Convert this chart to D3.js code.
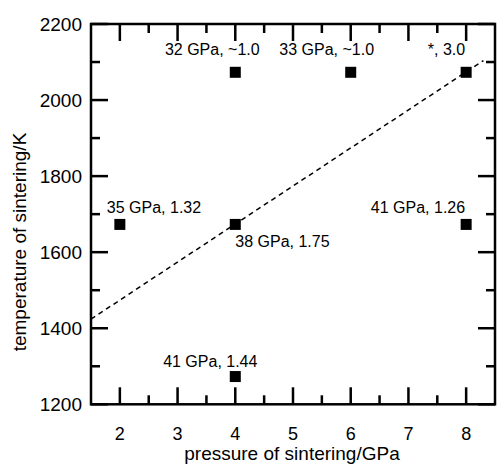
<!DOCTYPE html>
<html>
<head>
<meta charset="utf-8">
<script src="https://cdn.jsdelivr.net/npm/d3@7"></script>
<style>
  html, body { margin: 0; padding: 0; background: #fff; }
  svg { display: block; }
</style>
</head>
<body>
<svg id="chart" width="499" height="469"></svg>
<script>
// ---- data ----
const pressure    = [2, 4, 4, 4, 6, 8, 8];
const temperature = [1673, 2073, 1673, 1273, 2073, 2073, 1673];
const pointLabels = ["35 GPa, 1.32", "32 GPa, ~1.0", "38 GPa, 1.75", "41 GPa, 1.44",
                     "33 GPa, ~1.0", "*, 3.0", "41 GPa, 1.26"];
const fitPressure    = [1.5, 8.3];
const fitTemperature = [1424, 2104];
const xTicks      = [2, 3, 4, 5, 6, 7, 8];
const xMinorTicks = [2.5, 3.5, 4.5, 5.5, 6.5, 7.5];
const yTicks      = [1200, 1400, 1600, 1800, 2000, 2200];
const yMinorTicks = [1300, 1500, 1700, 1900, 2100];
const xTitle = "pressure of sintering/GPa";
const yTitle = "temperature of sintering/K";

// ---- layout / style ----
const FONT = "Liberation Sans, Arial, Helvetica, sans-serif";
const L = 91, R = 495, T = 24, B = 404.3;
const MAJOR = 17, MINOR = 9, SW = 2.5;
const labelStyle = [
  {anchor: "start",  dx: -13, dy: -11},
  {anchor: "middle", dx: -23, dy: -17},
  {anchor: "start",  dx: 0,   dy: 23},
  {anchor: "middle", dx: -25, dy: -10},
  {anchor: "middle", dx: -24, dy: -17},
  {anchor: "end",    dx: -1,  dy: -17},
  {anchor: "end",    dx: -1,  dy: -11}
];

const svg = d3.select("#chart");
const x = d3.scaleLinear().domain([1.5, 8.5]).range([L, R]);
const y = d3.scaleLinear().domain([1200, 2200]).range([B, T]);

// frame + inward ticks as filled rectangles
const axisG = svg.append("g").attr("fill", "#000");
const xTickData = xTicks.map(v => ({v, len: MAJOR})).concat(xMinorTicks.map(v => ({v, len: MINOR})));
const yTickData = yTicks.map(v => ({v, len: MAJOR})).concat(yMinorTicks.map(v => ({v, len: MINOR})));
axisG.selectAll("rect.tb").data(xTickData).join("rect").attr("class", "tb")
  .attr("x", d => x(d.v) - SW / 2).attr("width", SW)
  .attr("y", d => B - d.len).attr("height", d => d.len);
axisG.selectAll("rect.tt").data(xTickData).join("rect").attr("class", "tt")
  .attr("x", d => x(d.v) - SW / 2).attr("width", SW)
  .attr("y", T).attr("height", d => d.len);
axisG.selectAll("rect.tl").data(yTickData).join("rect").attr("class", "tl")
  .attr("y", d => y(d.v) - SW / 2).attr("height", SW)
  .attr("x", L).attr("width", d => d.len);
axisG.selectAll("rect.tr").data(yTickData).join("rect").attr("class", "tr")
  .attr("y", d => y(d.v) - SW / 2).attr("height", SW)
  .attr("x", d => R - d.len).attr("width", d => d.len);

// frame
svg.append("rect")
  .attr("x", L).attr("y", T).attr("width", R - L).attr("height", B - T)
  .attr("fill", "none").attr("stroke", "#000").attr("stroke-width", SW);

// dashed fit line
const fitData = fitPressure.map((p, i) => [p, fitTemperature[i]]);
svg.append("path")
  .datum(fitData)
  .attr("d", d3.line().x(d => x(d[0])).y(d => y(d[1])))
  .attr("fill", "none").attr("stroke", "#000").attr("stroke-width", 1.5)
  .attr("stroke-dasharray", "5,4");

// points
const pts = pressure.map((p, i) => ({p, t: temperature[i], label: pointLabels[i], s: labelStyle[i]}));
const sq = 11;
svg.append("g").selectAll("rect").data(pts).join("rect")
  .attr("x", d => x(d.p) - sq / 2).attr("y", d => y(d.t) - sq / 2)
  .attr("width", sq).attr("height", sq).attr("fill", "#000");

svg.append("g").selectAll("text").data(pts).join("text")
  .attr("x", d => x(d.p) + d.s.dx).attr("y", d => y(d.t) + d.s.dy)
  .attr("text-anchor", d => d.s.anchor)
  .attr("font-family", FONT).attr("font-size", 16).attr("fill", "#000")
  .text(d => d.label);

// tick labels
svg.append("g").selectAll("text").data(xTicks).join("text")
  .attr("x", d => x(d)).attr("y", 440)
  .attr("text-anchor", "middle")
  .attr("font-family", FONT).attr("font-size", 18).attr("fill", "#000")
  .text(d => d3.format("d")(d));
svg.append("g").selectAll("text").data(yTicks).join("text")
  .attr("x", L - 9).attr("y", d => y(d)).attr("dy", "0.35em")
  .attr("text-anchor", "end")
  .attr("font-family", FONT).attr("font-size", 19).attr("fill", "#000")
  .text(d => d3.format("d")(d));

// axis titles
svg.append("text")
  .attr("x", (L + R) / 2 - 1).attr("y", 460)
  .attr("text-anchor", "middle")
  .attr("font-family", FONT).attr("font-size", 19).attr("fill", "#000")
  .text(xTitle);
svg.append("text")
  .attr("transform", "translate(26,242) rotate(-90)")
  .attr("text-anchor", "middle")
  .attr("font-family", FONT).attr("font-size", 19).attr("fill", "#000")
  .text(yTitle);
</script>
</body>
</html>
